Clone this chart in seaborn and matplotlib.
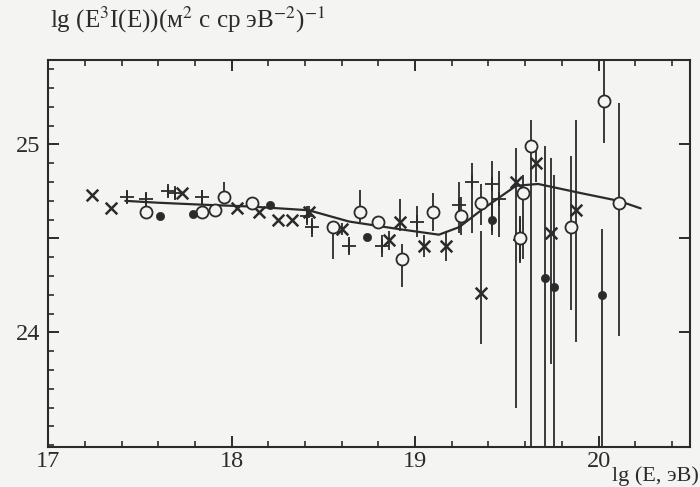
import numpy as np
import pandas as pd
import matplotlib
matplotlib.use("Agg")
import matplotlib.pyplot as plt
import seaborn as sns
from matplotlib.ticker import MultipleLocator, FixedLocator

# ---------------- данные ----------------
cross_x = [17.24, 17.34, 17.73, 18.03, 18.15, 18.25, 18.33, 18.42, 18.60, 18.86,
           18.92, 19.05, 19.17, 19.36, 19.55, 19.66, 19.74, 19.88]
cross_y = [24.73, 24.66, 24.74, 24.66, 24.64, 24.60, 24.60, 24.64, 24.55, 24.49,
           24.59, 24.46, 24.46, 24.21, 24.80, 24.90, 24.53, 24.65]
cross_lo = [0, 0, 0, 0, 0, 0, 0, 0.03, 0.03, 0.05, 0.05, 0.06, 0.08, 0.27, 1.2, 0.10, 0.70, 0.70]
cross_up = [0, 0, 0, 0, 0, 0, 0, 0.03, 0.03, 0.05, 0.12, 0.06, 0.08, 0.33, 0.18, 0.08, 0.40, 0.48]

plus_x = [17.43, 17.53, 17.65, 17.69, 17.84, 18.41, 18.44, 18.64, 18.82, 19.01,
          19.24, 19.31, 19.42, 19.46, 19.57]
plus_y = [24.72, 24.71, 24.75, 24.74, 24.72, 24.62, 24.56, 24.46, 24.46, 24.59,
          24.68, 24.80, 24.79, 24.71, 24.49]
plus_lo = [0.03, 0.03, 0.03, 0.03, 0.04, 0.05, 0.05, 0.05, 0.06, 0.08, 0.15, 0.27, 0.25, 0.20, 0.12]
plus_up = [0.03, 0.03, 0.03, 0.03, 0.04, 0.05, 0.05, 0.05, 0.06, 0.08, 0.12, 0.10, 0.12, 0.15, 0.12]

circ_x = [17.53, 17.84, 17.91, 17.96, 18.11, 18.55, 18.70, 18.80, 18.93, 19.10,
          19.25, 19.36, 19.57, 19.59, 19.63, 19.85, 20.03, 20.11]
circ_y = [24.64, 24.64, 24.65, 24.72, 24.69, 24.56, 24.64, 24.59, 24.39, 24.64,
          24.62, 24.69, 24.50, 24.74, 24.99, 24.56, 25.23, 24.69]
circ_lo = [0, 0, 0, 0, 0, 0.17, 0.05, 0.03, 0.15, 0.10, 0.10, 0.12, 0.12, 0.35, 1.65, 0.44, 0.22, 0.71]
circ_up = [0, 0, 0, 0.08, 0, 0.03, 0.12, 0.03, 0.08, 0.10, 0.10, 0.10, 0.12, 0.10, 0.14, 0.38, 0.25, 0.53]

dot_x = [17.61, 17.79, 18.21, 18.74, 19.42, 19.71, 19.76, 20.02]
dot_y = [24.62, 24.63, 24.68, 24.51, 24.60, 24.29, 24.24, 24.20]
dot_lo = [0, 0, 0, 0, 0.08, 0.90, 0.90, 0.85]
dot_up = [0, 0, 0, 0, 0.10, 0.70, 0.60, 0.35]

line_x = [17.42, 17.60, 17.83, 18.10, 18.42, 18.64, 18.91, 19.13, 19.24, 19.36,
          19.55, 19.67, 19.91, 20.11, 20.23]
line_y = [24.70, 24.69, 24.68, 24.67, 24.65, 24.59, 24.55, 24.52, 24.56, 24.65,
          24.78, 24.79, 24.74, 24.70, 24.66]

INK = "#2b2b2b"
BG = "#f4f4f2"

# ---------------- оформление ----------------
sns.set_theme(style="ticks")
plt.rcParams["font.family"] = ["Liberation Serif", "DejaVu Serif"]
plt.rcParams["mathtext.fontset"] = "stix"
plt.rcParams["text.color"] = INK
plt.rcParams["axes.edgecolor"] = INK
plt.rcParams["xtick.color"] = INK
plt.rcParams["ytick.color"] = INK

fig = plt.figure(figsize=(7.0, 4.87), dpi=100, facecolor=BG)
ax = fig.add_axes([0.069, 0.082, 0.917, 0.795])
ax.set_facecolor(BG)

# кривая
sns.lineplot(x=line_x, y=line_y, ax=ax, color=INK, linewidth=1.6,
             sort=False, estimator=None, zorder=3)

# ошибки
for xs, ys, lo, up in [(cross_x, cross_y, cross_lo, cross_up),
                       (plus_x, plus_y, plus_lo, plus_up),
                       (circ_x, circ_y, circ_lo, circ_up),
                       (dot_x, dot_y, dot_lo, dot_up)]:
    ax.errorbar(xs, ys, yerr=[lo, up], fmt="none", ecolor=INK,
                elinewidth=1.3, capsize=0, zorder=2)

df_cross = pd.DataFrame({"x": cross_x, "y": cross_y})
df_plus = pd.DataFrame({"x": plus_x, "y": plus_y})
df_circ = pd.DataFrame({"x": circ_x, "y": circ_y})
df_dot = pd.DataFrame({"x": dot_x, "y": dot_y})

sns.scatterplot(data=df_plus, x="x", y="y", ax=ax, marker="+", s=110,
                color=INK, linewidth=1.3, zorder=4)
sns.scatterplot(data=df_cross, x="x", y="y", ax=ax, marker="x", s=70,
                color=INK, linewidth=1.8, zorder=4)
sns.scatterplot(data=df_circ, x="x", y="y", ax=ax, marker="o", s=75,
                facecolor=BG, edgecolor=INK, linewidth=1.3, zorder=5)
sns.scatterplot(data=df_dot, x="x", y="y", ax=ax, marker="o", s=35,
                color=INK, edgecolor=INK, linewidth=0.5, zorder=5)

# оси
ax.set_xlim(17.0, 20.5)
ax.set_ylim(23.39, 25.45)
ax.xaxis.set_major_locator(FixedLocator([17, 18, 19, 20]))
ax.xaxis.set_minor_locator(MultipleLocator(0.2))
ax.yaxis.set_major_locator(FixedLocator([24.0, 24.5, 25.0]))
ax.yaxis.set_minor_locator(MultipleLocator(0.1))
ax.set_xticklabels(["17", "18", "19", "20"])
ax.set_yticklabels(["24", "", "25"])

ax.tick_params(which="both", direction="in", top=True, right=True, labelsize=17.5)
ax.tick_params(axis="x", pad=3)
ax.tick_params(axis="y", pad=6)
ax.tick_params(which="major", length=8, width=1.4)
ax.tick_params(which="minor", length=4, width=1.2, right=False)
for sp in ax.spines.values():
    sp.set_linewidth(1.5)
    sp.set_color(INK)

ax.set_xlabel("")
ax.set_ylabel("")

fig.text(0.072, 0.928, r"lg (E$^3$I(E))(м$^2$ с ср эВ$^{-2}$)$^{-1}$",
         fontsize=18, ha="left", va="bottom")
fig.text(0.998, 0.002, "lg (E, эВ)", fontsize=16, ha="right", va="bottom")

fig.savefig("out.png", dpi=100, facecolor=BG)
